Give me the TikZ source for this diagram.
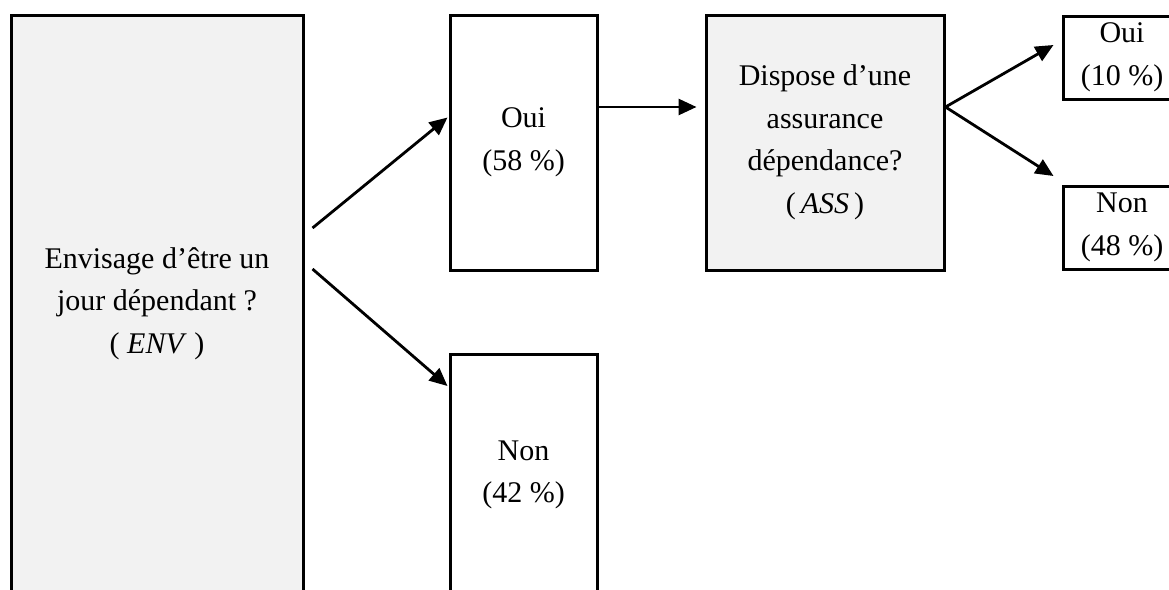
\documentclass[tikz,border=0pt]{standalone}
\usepackage{fontspec}
\setmainfont{Liberation Serif}
\usepackage{tikz}
\usetikzlibrary{arrows.meta}
\definecolor{boxgrey}{HTML}{F2F2F2}

\begin{document}
\begin{tikzpicture}[x=1pt,y=-1pt,
    box/.style={draw, line width=3pt, inner sep=0pt, align=center,
        font=\fontsize{30}{42.5}\selectfont},
    greybox/.style={box, fill=boxgrey},
    arr/.style={line width=2.8pt, -{Triangle[length=18pt,width=16pt]}}]
    \useasboundingbox (0,0) rectangle (1169,589);
    % question nodes
    \node[greybox, minimum width=292pt, minimum height=577pt] (env) at (157,303.5)
        {Envisage d’être un\\ jour dépendant ?\\ ( \textit{ENV} )};
    \node[greybox, minimum width=238pt, minimum height=255pt] (ass) at (825,142.5)
        {Dispose d’une\\ assurance\\ dépendance?\\ (\,\textit{ASS}\,)};
    % answers
    \node[box, minimum width=147pt, minimum height=255pt] (envoui) at (523.5,142.5)
        {Oui\\ (58 \%)};
    \node[box, minimum width=147pt, minimum height=242pt] (envnon) at (523.5,475)
        {Non\\ (42 \%)};
    \node[box, minimum width=118pt, minimum height=83pt] (assoui) at (1122,57.5)
        {Oui\\ (10 \%)};
    \node[box, minimum width=118pt, minimum height=83pt] (assnon) at (1122,227.5)
        {Non\\ (48 \%)};
    % arrows
    \draw[arr] ([xshift=8pt,yshift=75.5pt]env.east) -- ([xshift=-1pt,yshift=25pt]envoui.west);
    \draw[arr] ([xshift=8pt,yshift=34.5pt]env.east) -- ([xshift=-1pt,yshift=89pt]envnon.west);
    \draw[arr] ([yshift=35.5pt]envoui.east) -- ([xshift=-8pt,yshift=35.5pt]ass.west);
    \draw[arr] ([yshift=35.5pt]ass.east) -- ([xshift=-8pt,yshift=12.5pt]assoui.west);
    \draw[arr] ([yshift=35.5pt]ass.east) -- ([xshift=-8pt,yshift=51.5pt]assnon.west);
\end{tikzpicture}
\end{document}
